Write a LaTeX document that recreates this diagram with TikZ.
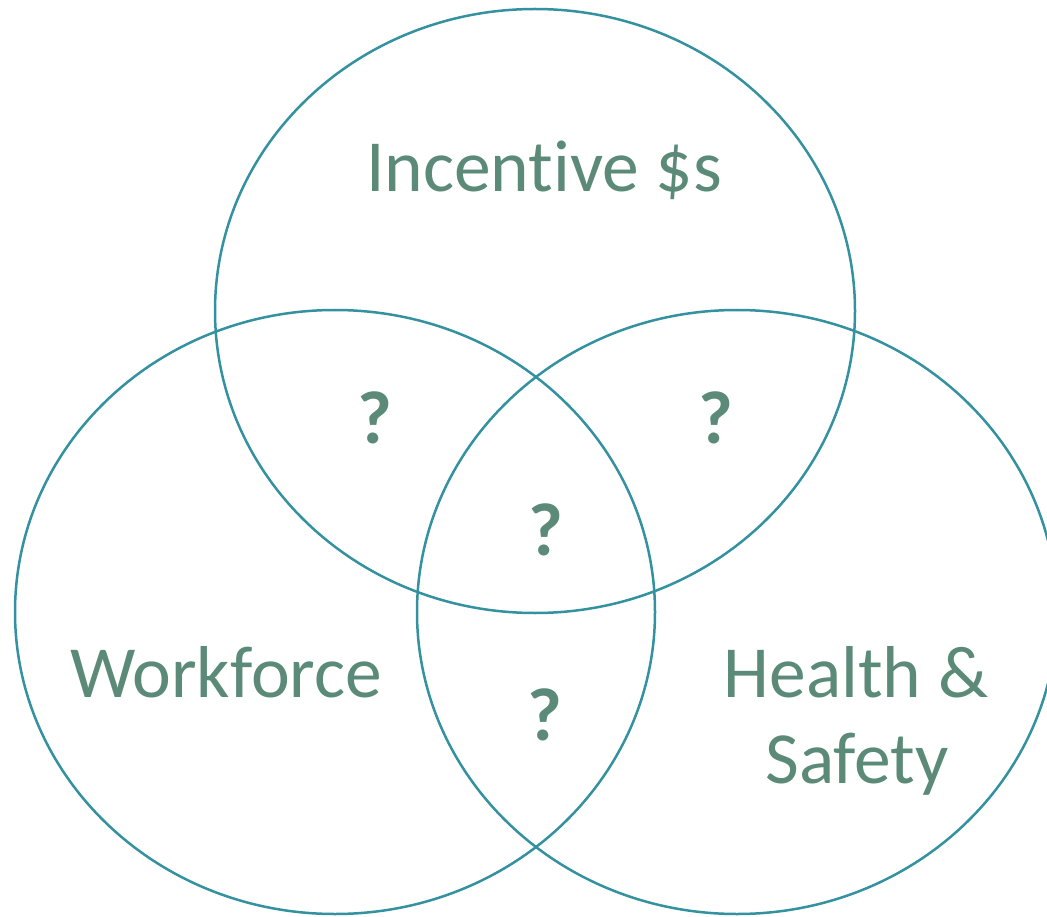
\documentclass[tikz,border=0pt]{standalone}
\usepackage{fontspec}
\setmainfont[Ligatures={NoCommon}]{Carlito}
\usetikzlibrary{shapes.geometric}
\definecolor{ringc}{HTML}{3391A0}
\definecolor{textc}{HTML}{5B8A78}
\begin{document}
\begin{tikzpicture}[x=1pt,y=-1pt,
  ring/.style={draw=ringc,line width=2.5pt,ellipse,inner sep=0pt,minimum width=640pt,minimum height=604pt},
  lbl/.style={text=textc,font=\fontsize{73.5}{76}\selectfont,anchor=base,inner sep=0pt},
  qm/.style={text=textc,font=\fontsize{75}{78}\selectfont\bfseries,anchor=base,inner sep=0pt}]
\useasboundingbox (0,0) rectangle (1047,917);
\begin{scope}
\clip (0,0) rectangle (1047,917);
\node[ring] (top) at (535,311) {};
\node[ring] (left) at (335,612) {};
\node[ring] (right) at (737,612) {};
\end{scope}
\node[lbl] (inc) at (544,192) {Incentive \$s};
\node[lbl] (wf) at (226,697) {Workforce};
\node[lbl] (hs1) at (856,697) {Health \&};
\node[lbl] (hs2) at (857,783) {Safety};
\node[qm] (q1) at (375,443) {?};
\node[qm] (q2) at (716,443) {?};
\node[qm] (q3) at (546,555) {?};
\node[qm] (q4) at (545,740) {?};
\end{tikzpicture}
\end{document}
